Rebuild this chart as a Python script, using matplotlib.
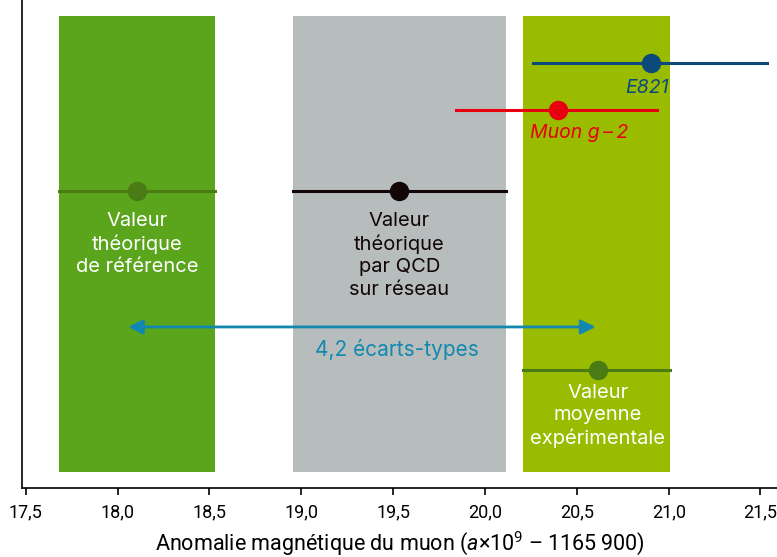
import numpy as np
from matplotlib import pyplot as plt

plt.rcParams['font.family'] = ['Roboto', 'DejaVu Sans']
plt.rcParams['mathtext.fontset'] = 'custom'
plt.rcParams['mathtext.it'] = 'Roboto:italic'
plt.rcParams['mathtext.rm'] = 'Roboto'
lab_font = ['Inter', 'DejaVu Sans']

# shaded bands (x from, x to)
band_lo = [17.68, 18.957, 20.205]
band_hi = [18.532, 20.113, 21.01]
band_col = ['#5aa51c', '#b7bdbd', '#99bb00']

# measurements / predictions: value, error bar ends
names = ['ref', 'qcd', 'e821', 'g2', 'mean']
vals = [18.106, 19.534, 20.902, 20.395, 20.613]
lo = [17.68, 18.957, 20.264, 19.844, 20.205]
hi = [18.532, 20.113, 21.533, 20.939, 21.01]
rows = [297, 297, 425, 378, 118]
cols = ['#4a7b15', '#120606', '#0d4a7c', '#e8000f', '#4a7b15']

arrow_x = [18.057, 20.602]
arrow_y = 161
xticks = [17.5, 18.0, 18.5, 19.0, 19.5, 20.0, 20.5, 21.0, 21.5]

fig = plt.figure(figsize=(7.77, 5.57), dpi=100)
ax = fig.add_axes([0.028, 0.124, 0.972, 0.876])

for a, b, c in zip(band_lo, band_hi, band_col):
    ax.axvspan(a, b, ymin=16/488, ymax=472/488, color=c, lw=0, zorder=0)

for v, l, h, r, c in zip(vals, lo, hi, rows, cols):
    ax.plot([l, h], [r, r], color=c, lw=2.2, zorder=2)
    ax.plot(v, r, 'o', color=c, ms=13, zorder=3)

ax.annotate('', xy=(arrow_x[0], arrow_y), xytext=(arrow_x[1], arrow_y),
            arrowprops=dict(arrowstyle='<|-|>', color='#1288b0', lw=2,
                            mutation_scale=22, shrinkA=0, shrinkB=0))
ax.text(19.52, 138, '4,2 écarts-types', color='#1288b0', fontsize=15,
        ha='center', va='center', family=lab_font)

ax.text(20.88, 400, 'E821', color='#0d4a7c', fontsize=14, style='italic',
        ha='center', va='center', family=lab_font)
ax.text(20.51, 355, 'Muon g\u2009–\u20092', color='#e8000f', fontsize=14, style='italic',
        ha='center', va='center', family=lab_font)

lab_kw = dict(fontsize=14.5, ha='center', va='top', linespacing=1.3, family=lab_font)
ax.text(18.106, 276, 'Valeur\nthéorique\nde référence', color='white', **lab_kw)
ax.text(19.534, 276, 'Valeur\nthéorique\npar QCD\nsur réseau', color='#120606', **lab_kw)
ax.text(20.613, 104, 'Valeur\nmoyenne\nexpérimentale', color='white', **lab_kw)

ax.set_xlim(17.478, 21.59)
ax.set_ylim(0, 488)
ax.set_yticks([])
ax.set_xticks(xticks)
ax.set_xticklabels([f'{t:.1f}'.replace('.', ',') for t in xticks], fontsize=13)
ax.tick_params(axis='x', direction='out', length=5, width=1.2, pad=6)
ax.spines['top'].set_visible(False)
ax.spines['right'].set_visible(False)
ax.spines['left'].set_linewidth(1.2)
ax.spines['bottom'].set_linewidth(1.2)
ax.set_xlabel('Anomalie magnétique du muon ($a$×10$^9$ – 1165\u2009900)', fontsize=15.5, labelpad=6)

fig.savefig('out.png', dpi=100)
